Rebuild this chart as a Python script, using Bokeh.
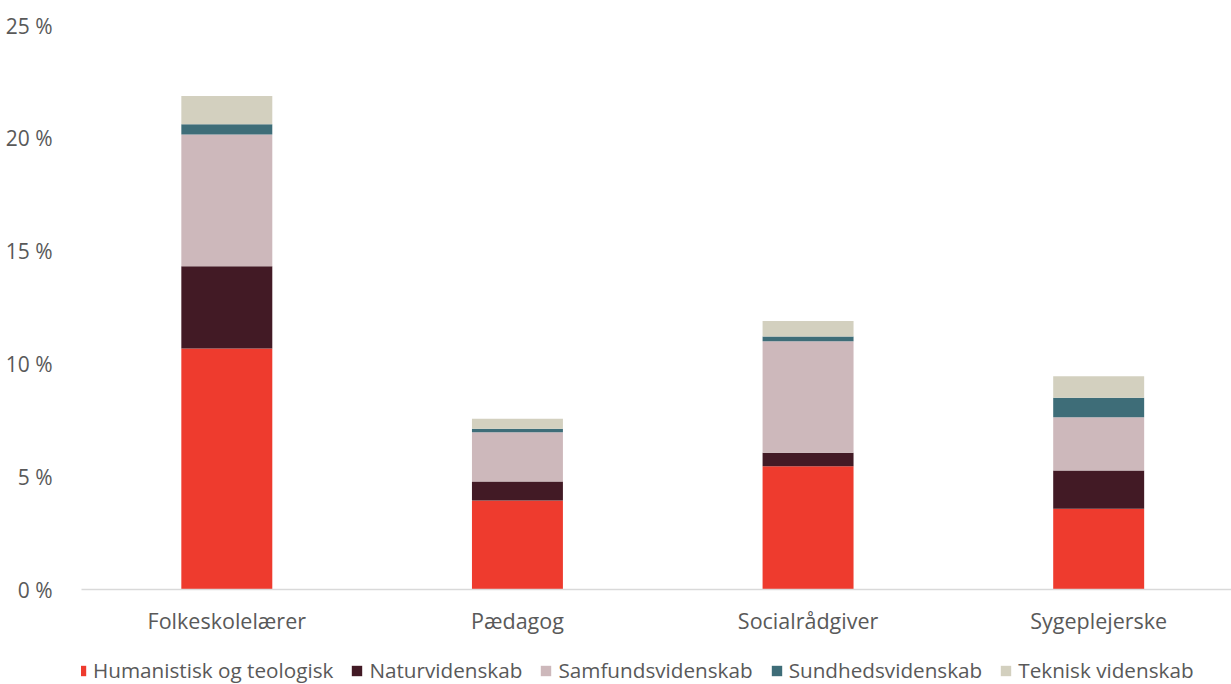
from bokeh.plotting import figure
from bokeh.models import ColumnDataSource, FixedTicker, Legend, LegendItem, Range1d
from bokeh.layouts import column
from bokeh.embed import file_html
from bokeh.resources import INLINE

categories = ["Folkeskolelærer", "Pædagog", "Socialrådgiver", "Sygeplejerske"]
series = ["Humanistisk og teologisk", "Naturvidenskab", "Samfundsvidenskab",
          "Sundhedsvidenskab", "Teknisk videnskab"]
humanistisk = [10.68, 3.95, 5.46, 3.58]
natur = [3.65, 0.84, 0.60, 1.69]
samfund = [5.84, 2.18, 4.94, 2.37]
sundhed = [0.45, 0.16, 0.22, 0.86]
teknisk = [1.25, 0.44, 0.68, 0.95]
colors = ["#EE3B2E", "#421A25", "#CDB8BB", "#3E6D78", "#D3D0BF"]
y_ticks = [0, 5, 10, 15, 20, 25]

keys = ["h", "n", "s", "su", "t"]
data = dict(x=list(range(len(categories))), h=humanistisk, n=natur, s=samfund,
            su=sundhed, t=teknisk)
src = ColumnDataSource(data)

p = figure(width=1231, height=650, output_backend="svg", toolbar_location=None,
           x_range=Range1d(-0.5, 3.457), y_range=Range1d(0, 25),
           min_border_left=81, min_border_right=0, min_border_top=25, min_border_bottom=61)
p.outline_line_color = None
p.grid.visible = False

renderers = p.vbar_stack(keys, x="x", width=0.313, color=colors, source=src, line_color=None)

font = "Open Sans"
p.yaxis.ticker = FixedTicker(ticks=y_ticks)
p.yaxis.major_label_overrides = {t: f"{t} %" for t in y_ticks}
p.yaxis.axis_line_color = None
p.yaxis.major_tick_line_color = None
p.yaxis.minor_tick_line_color = None
p.yaxis.major_label_standoff = 23
p.yaxis.major_label_text_font = font
p.yaxis.major_label_text_font_size = "21px"
p.yaxis.major_label_text_color = "#595959"

p.xaxis.ticker = FixedTicker(ticks=list(range(len(categories))))
p.xaxis.major_label_overrides = {i: c for i, c in enumerate(categories)}
p.xaxis.axis_line_color = "#D9D9D9"
p.xaxis.axis_line_width = 1.5
p.xaxis.major_tick_line_color = None
p.xaxis.minor_tick_line_color = None
p.xaxis.major_label_standoff = 10
p.xaxis.major_label_text_font = font
p.xaxis.major_label_text_font_size = "21.5px"
p.xaxis.major_label_text_color = "#595959"

# legend strip below the chart (its glyphs sit outside the visible range)
lg = figure(width=1231, height=34, output_backend="svg", toolbar_location=None,
            x_range=Range1d(0, 1), y_range=Range1d(0, 1),
            min_border_left=81, min_border_right=0, min_border_top=0, min_border_bottom=0)
lg.axis.visible = False
lg.grid.visible = False
lg.outline_line_color = None
lg_renderers = [lg.quad(left=[5], right=[6], bottom=[0], top=[1], color=c, line_color=None)
                for c in colors]
legend = Legend(items=[LegendItem(label=s, renderers=[r]) for s, r in zip(series, lg_renderers)],
                orientation="horizontal", location=(-7, 0), border_line_color=None,
                background_fill_alpha=0,
                label_text_font=font, label_text_font_size="20.7px",
                label_text_color="#595959", glyph_width=13, glyph_height=13,
                spacing=17, label_standoff=6, padding=0, margin=0)
lg.add_layout(legend, "center")

layout = column(p, lg, spacing=0)
open("out.html", "w").write(file_html(layout, INLINE))
